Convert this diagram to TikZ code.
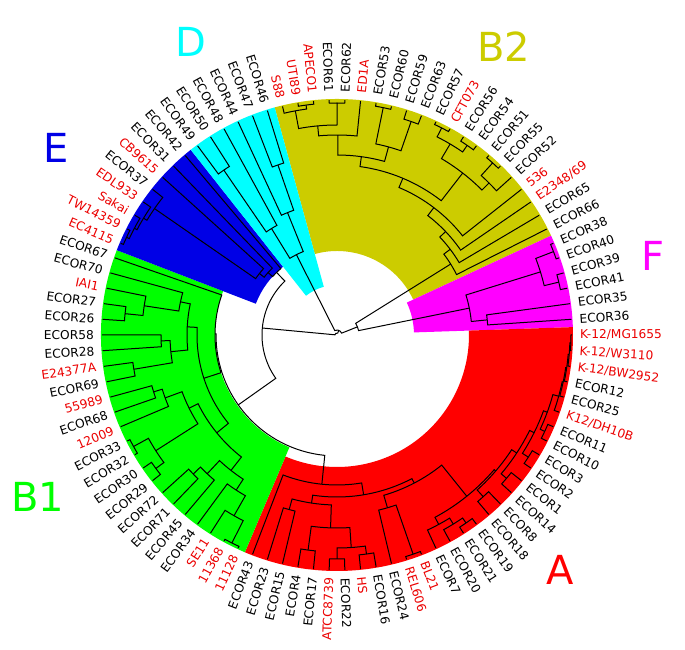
\documentclass[tikz,border=0pt]{standalone}
\usepackage{fontspec}
\setmainfont{DejaVu Sans}
\definecolor{cBtwo}{RGB}{204,204,0}
\definecolor{cF}{RGB}{255,0,255}
\definecolor{cA}{RGB}{255,0,0}
\definecolor{cBone}{RGB}{0,255,0}
\definecolor{cE}{RGB}{0,0,230}
\definecolor{cD}{RGB}{0,255,255}
\definecolor{lr}{RGB}{235,0,0}
\definecolor{lk}{RGB}{0,0,0}
\def\dlt{3.829787234}
% tree node: [angle override]{name}{radius}{child1}{child2}
\newcommand\tn[5][]{%
  \edef\tnA{\csname a@#4\endcsname}%
  \edef\tnB{\csname a@#5\endcsname}%
  \edef\tnRA{\csname r@#4\endcsname}%
  \edef\tnRB{\csname r@#5\endcsname}%
  \ifx\relax#1\relax\pgfmathsetmacro\tnM{(\tnA+\tnB)/2}\else\def\tnM{#1}\fi
  \expandafter\xdef\csname a@#2\endcsname{\tnM}%
  \expandafter\xdef\csname r@#2\endcsname{#3pt}%
  \draw[tree] (\tnA:\tnRA) -- (\tnA:#3pt) arc[start angle=\tnA, end angle=\tnB, radius=#3pt] -- (\tnB:\tnRB);
}
% sector: first leaf, last leaf, inner radius, colour
\newcommand\sect[4]{%
  \pgfmathsetmacro\secA{-(#1-28)*\dlt+0.5*\dlt}%
  \pgfmathsetmacro\secB{-(#2-28)*\dlt-0.5*\dlt}%
  \fill[#4] (\secA:#3pt) arc[start angle=\secA, end angle=\secB, radius=#3pt] -- (\secB:236pt) arc[start angle=\secB, end angle=\secA, radius=236pt] -- cycle;
}
% label: index, text, colour
\newcommand\lab[3]{%
  \pgfmathsetmacro\labA{-(#1-28)*\dlt}%
  \pgfmathsetmacro\labN{mod(\labA+810,360)}%
  \pgfmathsetmacro\labB{\labA+180}%
  \ifdim\labN pt<180pt
    \node[lbl,text=#3,rotate=\labA,anchor=west] (lab#1) at (\labA:243pt) {#2};
  \else
    \node[lbl,text=#3,rotate=\labB,anchor=east] (lab#1) at (\labA:243pt) {#2};
  \fi
}
\begin{document}
\begin{tikzpicture}[x=1pt,y=1pt,
  tree/.style={line width=1pt,black},
  lbl/.style={font=\fontsize{12.2}{14}\selectfont,inner sep=0pt},
  big/.style={font=\fontsize{40}{48}\selectfont,inner sep=0pt}]
\useasboundingbox (-337,-315) rectangle (348,335);
\foreach \i in {1,...,94}{%
  \pgfmathsetmacro\tmp{-(\i-28)*\dlt}%
  \expandafter\xdef\csname a@L\i\endcsname{\tmp}%
  \expandafter\xdef\csname r@L\i\endcsname{235pt}%
}
% coloured sectors
\sect{1}{21}{84}{cBtwo}
\sect{22}{27}{77}{cF}
\sect{28}{57}{132}{cA}
\sect{58}{80}{122}{cBone}
\sect{81}{88}{87}{cE}
\sect{89}{94}{50}{cD}
% ---- B2
\tn{btwoa1}{232}{L2}{L3}
\tn{btwoa2}{228}{L1}{btwoa1}
\tn{btwoa3}{232}{L4}{L5}
\tn{btwoa4}{210}{btwoa2}{btwoa3}
\tn{btwoa}{200}{btwoa4}{L6}
\tn{btwob1}{232}{L7}{L8}
\tn{btwob2}{226}{L9}{L10}
\tn{btwob}{195}{btwob1}{btwob2}
\tn{btwoab}{180}{btwoa}{btwob}
\tn{btwoc1}{232}{L11}{L12}
\tn{btwoc2}{230}{L13}{L14}
\tn{btwoc3}{222}{btwoc1}{btwoc2}
\tn{btwoc4}{232}{L15}{L16}
\tn{btwoc5}{215}{btwoc4}{L17}
\tn{btwoc}{205}{btwoc3}{btwoc5}
\tn{btwocore}{170}{btwoab}{btwoc}
\tn{btwod}{160}{btwocore}{L18}
\tn{btwoe}{150}{btwod}{L19}
\tn{btwof}{142}{btwoe}{L20}
\tn{Btwo}{134}{btwof}{L21}
% ---- F
\tn{f1}{232}{L22}{L23}
\tn{f2}{228}{L24}{L25}
\tn{f3}{213}{f1}{f2}
\tn{f4}{151}{L26}{L27}
\tn{F}{135}{f3}{f4}
\tn{BF}{22}{Btwo}{F}
% ---- A
\tn{s1}{234}{L28}{L29}
\tn{s2}{233}{s1}{L30}
\tn{s3}{232}{s2}{L31}
\tn{s4}{231}{s3}{L32}
\tn{s5}{230}{s4}{L33}
\tn{s6}{229}{L34}{L35}
\tn{s7}{224}{s5}{s6}
\tn{s8}{227}{L36}{L37}
\tn{s9}{220}{s7}{s8}
\tn{s10}{222}{L38}{L39}
\tn{s11}{215}{s9}{s10}
\tn{s12}{218}{L40}{L41}
\tn{Sr}{209}{s11}{s12}
\tn{sl1}{228}{L43}{L42}
\tn{sl2}{222}{L44}{sl1}
\tn{Sl}{215}{L45}{sl2}
\tn{S}{207}{Sl}{Sr}
\tn{rl1}{232}{L47}{L46}
\tn{Rl}{180}{L48}{rl1}
\tn{R}{167}{Rl}{S}
\tn{q1}{221}{L50}{L49}
\tn{q2}{224}{L52}{L51}
\tn{q3}{213}{q2}{q1}
\tn{q4}{217}{L54}{L53}
\tn{Q}{193}{q4}{q3}
\tn{p1}{181}{L56}{L55}
\tn{P}{170}{p1}{Q}
\tn{rest}{162}{P}{R}
\tn{A}{150}{L57}{rest}
% ---- B1
\tn{g1}{233}{L58}{L59}
\tn{g2}{208}{g1}{L60}
\tn{g3}{185}{g2}{L61}
\tn{g4a}{200}{L63}{L64}
\tn{g4}{190}{L62}{g4a}
\tn{g5}{172}{g3}{g4}
\tn{g6a}{225}{L65}{L66}
\tn{g6b}{232}{L67}{L68}
\tn{g6}{215}{g6a}{g6b}
\tn{g7a}{192}{L70}{L71}
\tn{g7}{183}{L69}{g7a}
\tn{g8}{165}{g6}{g7}
\tn{g9}{155}{g5}{g8}
\tn{g10a}{176}{L74}{L75}
\tn{g10b}{206}{L72}{L73}
\tn{g10}{167}{g10a}{g10b}
\tn{g11a}{213}{L76}{L77}
\tn{g11b}{195}{g11a}{L78}
\tn{g11}{160}{g11b}{L79}
\tn{g12}{150}{g10}{g11}
\tn{g13}{140}{g9}{g12}
\tn{Bone}{122}{g13}{L80}
\tn[-144.7]{X}{121}{Bone}{A}
% ---- E
\tn{e6}{232}{L81}{L82}
\tn{e5}{229}{e6}{L83}
\tn{e4}{226}{e5}{L84}
\tn{e3}{222}{e4}{L85}
\tn{e2}{99}{e3}{L86}
\tn{e1}{93}{e2}{L87}
\tn{E}{87}{e1}{L88}
\tn{EX}{75}{E}{X}
% ---- D
\tn{d1}{200}{L89}{L90}
\tn{d2}{125}{d1}{L91}
\tn{d3}{180}{L93}{L94}
\tn{d4}{132}{L92}{d3}
\tn{D}{90}{d2}{d4}
% ---- root
\pgfmathsetmacro\tmp{\csname a@D\endcsname+360}
\expandafter\xdef\csname a@Dp\endcsname{\tmp}
\expandafter\xdef\csname r@Dp\endcsname{90pt}
\tn{DR}{5}{BF}{Dp}
\pgfmathsetmacro\tmp{\csname a@EX\endcsname+360}
\expandafter\xdef\csname a@EXp\endcsname{\tmp}
\expandafter\xdef\csname r@EXp\endcsname{75pt}
\tn{root}{2}{DR}{EXp}
% ---- labels
\lab{1}{S88}{lr}
\lab{2}{UTI89}{lr}
\lab{3}{APECO1}{lr}
\lab{4}{ECOR61}{lk}
\lab{5}{ECOR62}{lk}
\lab{6}{ED1A}{lr}
\lab{7}{ECOR53}{lk}
\lab{8}{ECOR60}{lk}
\lab{9}{ECOR59}{lk}
\lab{10}{ECOR63}{lk}
\lab{11}{ECOR57}{lk}
\lab{12}{CFT073}{lr}
\lab{13}{ECOR56}{lk}
\lab{14}{ECOR54}{lk}
\lab{15}{ECOR51}{lk}
\lab{16}{ECOR55}{lk}
\lab{17}{ECOR52}{lk}
\lab{18}{536}{lr}
\lab{19}{E2348/69}{lr}
\lab{20}{ECOR65}{lk}
\lab{21}{ECOR66}{lk}
\lab{22}{ECOR38}{lk}
\lab{23}{ECOR40}{lk}
\lab{24}{ECOR39}{lk}
\lab{25}{ECOR41}{lk}
\lab{26}{ECOR35}{lk}
\lab{27}{ECOR36}{lk}
\lab{28}{K-12/MG1655}{lr}
\lab{29}{K-12/W3110}{lr}
\lab{30}{K-12/BW2952}{lr}
\lab{31}{ECOR12}{lk}
\lab{32}{ECOR25}{lk}
\lab{33}{K12/DH10B}{lr}
\lab{34}{ECOR11}{lk}
\lab{35}{ECOR10}{lk}
\lab{36}{ECOR3}{lk}
\lab{37}{ECOR2}{lk}
\lab{38}{ECOR1}{lk}
\lab{39}{ECOR14}{lk}
\lab{40}{ECOR8}{lk}
\lab{41}{ECOR18}{lk}
\lab{42}{ECOR19}{lk}
\lab{43}{ECOR21}{lk}
\lab{44}{ECOR20}{lk}
\lab{45}{ECOR7}{lk}
\lab{46}{BL21}{lr}
\lab{47}{REL606}{lr}
\lab{48}{ECOR24}{lk}
\lab{49}{ECOR16}{lk}
\lab{50}{HS}{lr}
\lab{51}{ECOR22}{lk}
\lab{52}{ATCC8739}{lr}
\lab{53}{ECOR17}{lk}
\lab{54}{ECOR4}{lk}
\lab{55}{ECOR15}{lk}
\lab{56}{ECOR23}{lk}
\lab{57}{ECOR43}{lk}
\lab{58}{11128}{lr}
\lab{59}{11368}{lr}
\lab{60}{SE11}{lr}
\lab{61}{ECOR34}{lk}
\lab{62}{ECOR45}{lk}
\lab{63}{ECOR71}{lk}
\lab{64}{ECOR72}{lk}
\lab{65}{ECOR29}{lk}
\lab{66}{ECOR30}{lk}
\lab{67}{ECOR32}{lk}
\lab{68}{ECOR33}{lk}
\lab{69}{12009}{lr}
\lab{70}{ECOR68}{lk}
\lab{71}{55989}{lr}
\lab{72}{ECOR69}{lk}
\lab{73}{E24377A}{lr}
\lab{74}{ECOR28}{lk}
\lab{75}{ECOR58}{lk}
\lab{76}{ECOR26}{lk}
\lab{77}{ECOR27}{lk}
\lab{78}{IAI1}{lr}
\lab{79}{ECOR70}{lk}
\lab{80}{ECOR67}{lk}
\lab{81}{EC4115}{lr}
\lab{82}{TW14359}{lr}
\lab{83}{Sakai}{lr}
\lab{84}{EDL933}{lr}
\lab{85}{ECOR37}{lk}
\lab{86}{CB9615}{lr}
\lab{87}{ECOR31}{lk}
\lab{88}{ECOR42}{lk}
\lab{89}{ECOR49}{lk}
\lab{90}{ECOR50}{lk}
\lab{91}{ECOR48}{lk}
\lab{92}{ECOR44}{lk}
\lab{93}{ECOR47}{lk}
\lab{94}{ECOR46}{lk}
% ---- group letters
\node[big,text=cD] (tD) at (-146,293) {D};
\node[big,text=cBtwo] (tBtwo) at (167,288) {B2};
\node[big,text=cE] (tE) at (-281,187) {E};
\node[big,text=cF] (tF) at (316,79) {F};
\node[big,text=cBone] (tBone) at (-299,-162) {B1};
\node[big,text=cA] (tA) at (223,-235) {A};
\end{tikzpicture}
\end{document}
